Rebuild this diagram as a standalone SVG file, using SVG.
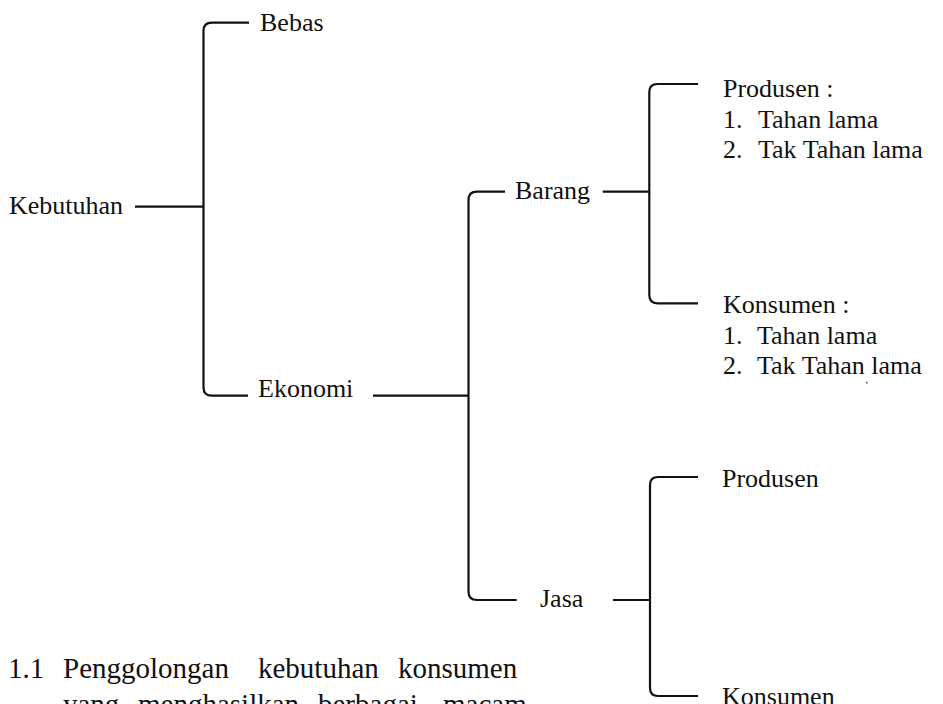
<svg xmlns="http://www.w3.org/2000/svg" width="943" height="704" viewBox="0 0 943 704">
<style>
.t{font-family:"Liberation Serif","Times New Roman",serif;font-size:26px;fill:#111}
.c{font-family:"Liberation Serif","Times New Roman",serif;font-size:29px;fill:#111}
.ln{fill:none;stroke:#111;stroke-width:2.2;stroke-linecap:butt;stroke-linejoin:round}
</style>
<rect width="943" height="704" fill="#fff"/>
<g id="connectors">
<path class="ln" d="M135,206.7 H203.5"/>
<path class="ln" d="M249,22.7 H212 Q203.5,22.7 203.5,31 V387.5 Q203.5,395.7 212,395.7 H248"/>
<path class="ln" d="M373,395.7 H468.5"/>
<path class="ln" d="M505,191.7 H477 Q468.5,191.7 468.5,200 V591.5 Q468.5,600 477,600 H516.7"/>
<path class="ln" d="M602.7,191.7 H649.3"/>
<path class="ln" d="M698,84 H657.5 Q649.3,84 649.3,92 V295 Q649.3,303.3 657.5,303.3 H698"/>
<path class="ln" d="M613,600 H650"/>
<path class="ln" d="M698,477 H658 Q650,477 650,485 V688 Q650,696 658,696 H698"/>
</g>
<g id="kebutuhan"><text class="t" x="9" y="214.3">Kebutuhan</text></g>
<g id="bebas"><text class="t" x="260" y="31">Bebas</text></g>
<g id="ekonomi"><text class="t" x="258" y="396.7">Ekonomi</text></g>
<g id="barang"><text class="t" x="515" y="198.5">Barang</text></g>
<g id="jasa"><text class="t" x="540" y="606.7">Jasa</text></g>
<g id="barang-produsen">
<text class="t" x="723" y="96.7">Produsen :</text>
<text class="t" y="127.7"><tspan x="723">1.</tspan><tspan x="758">Tahan lama</tspan></text>
<text class="t" y="157.5"><tspan x="723">2.</tspan><tspan x="758">Tak Tahan lama</tspan></text>
</g>
<g id="barang-konsumen">
<text class="t" x="723" y="313.3">Konsumen :</text>
<text class="t" y="343.5"><tspan x="723">1.</tspan><tspan x="757">Tahan lama</tspan></text>
<text class="t" y="373.5"><tspan x="723">2.</tspan><tspan x="757">Tak Tahan lama</tspan></text>
<circle cx="866.7" cy="382.7" r="0.9" fill="#555"/>
</g>
<g id="jasa-produsen"><text class="t" x="722" y="487">Produsen</text></g>
<g id="jasa-konsumen"><text class="t" x="722" y="704.5">Konsumen</text></g>
<g id="caption">
<text class="c" y="678"><tspan x="8">1.1</tspan><tspan x="63">Penggolongan</tspan><tspan x="258">kebutuhan</tspan><tspan x="398">konsumen</tspan></text>
<text class="c" y="714"><tspan x="63">yang</tspan><tspan x="138">menghasilkan</tspan><tspan x="318">berbagai</tspan><tspan x="443">macam</tspan></text>
</g>
</svg>
